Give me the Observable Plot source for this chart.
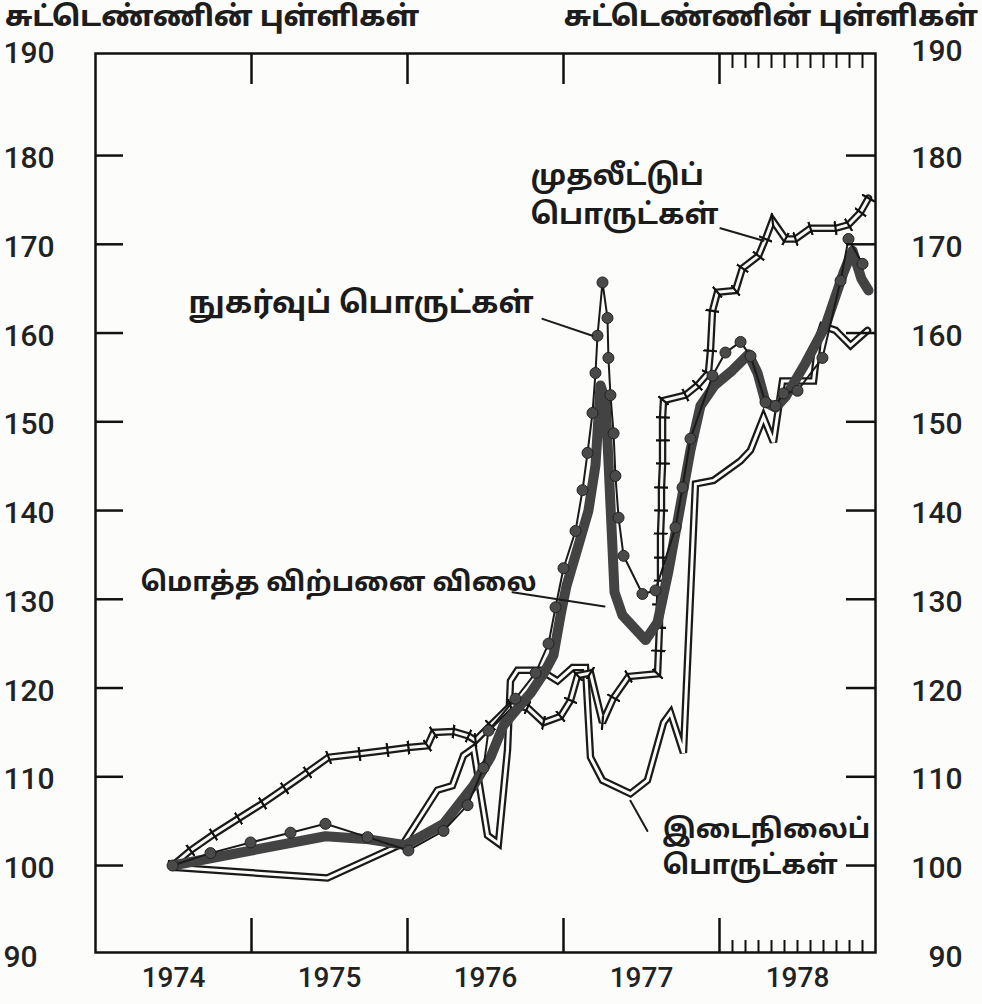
<!DOCTYPE html>
<html><head><meta charset="utf-8">
<script src="https://cdn.jsdelivr.net/npm/d3@7"></script>
<script src="https://cdn.jsdelivr.net/npm/@observablehq/plot@0.6"></script>
<style>
html,body{margin:0;padding:0;background:#fcfcfa;}
#wrap{width:982px;height:1004px;position:relative;overflow:hidden;}
#head{height:30px;position:relative;font-family:"Noto Sans Tamil","Lohit Tamil","Noto Sans",sans-serif;font-weight:800;font-size:28px;line-height:30px;color:#1d1d1d;}
#head span{position:absolute;top:4px;height:30px;line-height:30px;white-space:nowrap;}
#tl{left:5px;} #tr{right:4px;}
</style></head><body>
<div id="wrap"><div id="head"><span id="tl"></span><span id="tr"></span></div><div id="chart"></div></div>
<script>
// ---- data (year as decimal, index value) ----
const axisTitle = "சுட்டெண்ணின் புள்ளிகள்";
const yearLabels = ["1974","1975","1976","1977","1978"];
const yearBoundaries = [1975,1976,1977,1978];
const months1978 = [1,2,3,4,5,6,7,8,9,10,11];
const yTicks = [100,110,120,130,140,150,160,170,180];
const yLabels = [90,100,110,120,130,140,150,160,170,180];
const yTopLabel = [190];

const capitalGoods = [[1974.494,100.0],[1974.609,101.7],[1974.756,103.5],[1974.917,105.3],[1975.071,107.0],[1975.212,108.7],[1975.359,110.5],[1975.494,112.2],[1975.692,112.6],[1975.872,113.0],[1976.006,113.3],[1976.128,113.5],[1976.167,115.0],[1976.295,115.1],[1976.391,114.6],[1976.436,114.1],[1976.532,115.8],[1976.660,118.0],[1976.769,117.8],[1976.872,116.1],[1976.981,116.8],[1977.045,118.6],[1977.090,121.4],[1977.173,121.7],[1977.250,116.1],[1977.321,118.9],[1977.417,121.3],[1977.603,121.6],[1977.609,124.2],[1977.615,126.8],[1977.615,129.4],[1977.622,132.1],[1977.622,134.7],[1977.622,137.4],[1977.628,140.0],[1977.628,142.6],[1977.635,145.3],[1977.635,147.9],[1977.635,150.5],[1977.641,152.4],[1977.782,153.0],[1977.859,154.1],[1977.929,155.5],[1977.942,158.0],[1977.955,162.5],[1977.987,164.6],[1978.103,164.8],[1978.147,167.3],[1978.250,168.7],[1978.295,170.6],[1978.340,172.7],[1978.423,170.6],[1978.487,170.6],[1978.583,171.8],[1978.744,171.8],[1978.827,172.2],[1978.904,173.6],[1978.955,175.2]];

const consumerGoods = [[1974.494,100.0],[1974.737,101.4],[1974.994,102.6],[1975.250,103.7],[1975.474,104.7],[1975.744,103.2],[1976.006,101.7],[1976.231,103.9],[1976.385,106.8],[1976.487,111.0],[1976.519,115.2],[1976.692,118.8],[1976.821,121.7],[1976.904,125.0],[1976.949,129.1],[1977.000,133.5],[1977.077,137.7],[1977.122,142.3],[1977.154,146.5],[1977.186,151.0],[1977.205,155.5],[1977.218,159.7],[1977.250,165.7],[1977.282,161.7],[1977.288,157.2],[1977.301,153.0],[1977.321,148.7],[1977.333,143.9],[1977.353,139.2],[1977.385,134.9],[1977.506,130.6],[1977.590,131.0],[1977.718,138.1],[1977.763,142.6],[1977.814,148.1],[1977.955,155.2],[1978.038,157.8],[1978.135,159.0],[1978.199,157.4],[1978.295,152.2],[1978.359,151.8],[1978.410,153.2],[1978.500,153.5],[1978.660,157.2],[1978.776,165.9],[1978.827,170.6],[1978.917,167.8]];

const wholesalePrice = [[1974.494,100.0],[1975.474,103.3],[1975.731,103.0],[1975.987,102.3],[1976.231,104.7],[1976.423,109.0],[1976.532,112.2],[1976.615,115.8],[1976.705,117.7],[1976.788,119.4],[1976.872,121.6],[1976.936,123.7],[1976.981,128.2],[1977.019,131.5],[1977.096,136.1],[1977.160,140.0],[1977.205,145.1],[1977.237,154.1],[1977.269,152.4],[1977.288,145.6],[1977.308,138.1],[1977.327,130.8],[1977.378,128.2],[1977.526,125.4],[1977.603,127.4],[1977.673,133.2],[1977.750,140.6],[1977.814,146.8],[1977.878,151.8],[1977.968,154.1],[1978.083,155.8],[1978.186,157.6],[1978.244,155.5],[1978.295,152.2],[1978.359,151.6],[1978.423,152.8],[1978.551,156.6],[1978.679,160.8],[1978.795,166.8],[1978.853,169.3],[1978.910,166.1],[1978.955,164.8]];

const intermediateGoods = [[1974.494,99.8],[1975.487,98.6],[1975.974,102.5],[1976.192,108.5],[1976.288,109.0],[1976.359,112.4],[1976.423,113.2],[1976.513,103.4],[1976.583,102.5],[1976.641,113.0],[1976.660,120.8],[1976.705,122.0],[1976.853,122.0],[1976.962,120.8],[1977.058,122.3],[1977.141,122.3],[1977.173,112.2],[1977.250,109.6],[1977.429,108.1],[1977.538,109.6],[1977.641,116.1],[1977.686,117.2],[1977.769,112.7],[1977.846,143.0],[1977.962,143.4],[1978.135,145.6],[1978.199,146.8],[1978.282,150.5],[1978.346,147.7],[1978.404,154.6],[1978.603,154.6],[1978.635,159.5],[1978.660,160.8],[1978.744,160.3],[1978.840,158.6],[1978.949,160.3]];

// annotations (label text and anchor in data units)
const labelTexts = ["முதலீட்டுப்\nபொருட்கள்","நுகர்வுப் பொருட்கள்","மொத்த விற்பனை விலை","இடைநிலைப்\nபொருட்கள்"];
const labelAt = [[1976.788,175.9],[1974.596,163.7],[1974.288,132.3],[1977.635,102.4]];
const labelSize = [29, 30, 27, 27];
const pointerFrom = [[1978.006,171.8],[1976.865,161.6],[1976.673,130.8],[1977.538,103.9]];
const pointerTo = [[1978.282,170.4],[1977.186,159.7],[1977.263,129.2],[1977.429,107.3]];
const pointerBend = [0,0,0,45];

// ---- build ----
const toRows = a => a.map(([t,v]) => ({t, v}));
const cap = toRows(capitalGoods), con = toRows(consumerGoods), whl = toRows(wholesalePrice), mid = toRows(intermediateGoods);
const notes = labelTexts.map((text,i) => ({text, t: labelAt[i][0], v: labelAt[i][1], size: labelSize[i]}));
const ptrs = pointerFrom.map((f,i) => ({t1:f[0], v1:f[1], t2:pointerTo[i][0], v2:pointerTo[i][1], bend: pointerBend[i]}));

document.getElementById("tl").textContent = axisTitle;
document.getElementById("tr").textContent = axisTitle;

const numFont = "Roboto,'DejaVu Sans',sans-serif";
const tamilFont = "'Noto Sans Tamil','Lohit Tamil','Noto Sans',sans-serif";
const ink = "#1b1b1b";

function crossTick(color, context) {
  const m = d3.create("svg:marker")
    .attr("viewBox", "-7 -7 14 14")
    .attr("markerWidth", 14).attr("markerHeight", 14)
    .attr("markerUnits", "userSpaceOnUse")
    .attr("orient", "auto");
  m.append("path").attr("d", "M0,-6.5V6.5").attr("stroke", "#111").attr("stroke-width", 2.2).attr("fill", "none");
  return m.node();
}

const chart = Plot.plot({
  width: 982, height: 974,
  marginLeft: 95, marginRight: 107, marginTop: 23, marginBottom: 52,
  x: {domain: [1974, 1979], axis: null, label: null},
  y: {domain: [90.2, 191.5], axis: null, label: null},
  style: {background: "transparent", color: ink},
  marks: [
    // intermediate goods: double line
    Plot.line(mid, {x: "t", y: "v", stroke: "#1a1a1a", strokeWidth: 7.5, strokeLinejoin: "miter", strokeMiterlimit: 3}),
    Plot.line(mid, {x: "t", y: "v", stroke: "#fcfcfa", strokeWidth: 3, strokeLinejoin: "miter", strokeMiterlimit: 3}),
    // capital goods: double line with cross ticks
    Plot.line(cap, {x: "t", y: "v", stroke: "#1a1a1a", strokeWidth: 7.5, strokeLinejoin: "miter", strokeMiterlimit: 3}),
    Plot.line(cap, {x: "t", y: "v", stroke: "#f6f6f4", strokeWidth: 3, strokeLinejoin: "miter", strokeMiterlimit: 3, marker: crossTick}),
    // wholesale price: thick line
    Plot.line(whl, {x: "t", y: "v", stroke: "#434343", strokeWidth: 10, strokeLinejoin: "round", strokeLinecap: "round"}),
    // consumer goods: thin line with dots
    Plot.line(con, {x: "t", y: "v", stroke: "#1a1a1a", strokeWidth: 2}),
    Plot.dot(con, {x: "t", y: "v", r: 5.5, fill: "#4a4a4a", stroke: "#222", strokeWidth: 1}),
    // annotations
    Plot.text(notes, {x: "t", y: "v", text: "text", textAnchor: "start", lineAnchor: "middle", lineHeight: 1.35, fontSize: "size", fontWeight: "bold", fontFamily: tamilFont, fill: ink}),
    Plot.arrow(ptrs, {x1: "t1", y1: "v1", x2: "t2", y2: "v2", bend: "bend", stroke: ink, strokeWidth: 2, headLength: 12}),
    // frame and axes
    Plot.frame({stroke: "#111", strokeWidth: 2.5}),
    Plot.axisY(yTicks, {anchor: "left", tickSize: 28, dx: 28, fill: "none", stroke: "#111", strokeWidth: 2.5}),
    Plot.axisY(yTicks, {anchor: "right", tickSize: 30, dx: -30, fill: "none", stroke: "#111", strokeWidth: 2.5}),
    Plot.axisX(yearBoundaries, {anchor: "bottom", tickSize: 34, dy: -34, fill: "none", stroke: "#111", strokeWidth: 2.5}),
    Plot.axisX(yearBoundaries, {anchor: "top", tickSize: 30, dy: 30, fill: "none", stroke: "#111", strokeWidth: 2.5}),
    Plot.axisX(months1978.map(m => 1978 + m / 12), {anchor: "bottom", tickSize: 12, dy: -12, fill: "none", stroke: "#111", strokeWidth: 2}),
    Plot.axisX(months1978.map(m => 1978 + m / 12), {anchor: "top", tickSize: 14, dy: 14, fill: "none", stroke: "#111", strokeWidth: 2}),
    Plot.axisY(yLabels, {anchor: "left", tickSize: 0, tickPadding: 0, textAnchor: "start", dx: -92, dy: 3, fontSize: 30, fontWeight: 500, fontFamily: numFont, fill: "#222", label: null}),
    Plot.axisY(yLabels, {anchor: "right", tickSize: 0, tickPadding: 0, textAnchor: "end", dx: 87, dy: 3, fontSize: 30, fontWeight: 500, fontFamily: numFont, fill: "#222", label: null}),
    Plot.text(yTopLabel, {frameAnchor: "top-left", text: d => String(d), textAnchor: "start", lineAnchor: "middle", dx: -92, dy: 0, fontSize: 30, fontWeight: 500, fontFamily: numFont, fill: "#222"}),
    Plot.text(yTopLabel, {frameAnchor: "top-right", text: d => String(d), textAnchor: "end", lineAnchor: "middle", dx: 87, dy: -2, fontSize: 30, fontWeight: 500, fontFamily: numFont, fill: "#222"}),
    Plot.axisX(yearLabels.map(d => +d + 0.5), {anchor: "bottom", tickSize: 0, tickPadding: 0, dy: 15, tickFormat: d => String(Math.floor(d)), fontSize: 28, fontWeight: 500, fontFamily: numFont, fill: "#222", label: null})
  ]
});
document.getElementById("chart").appendChild(chart);
</script>
</body></html>
